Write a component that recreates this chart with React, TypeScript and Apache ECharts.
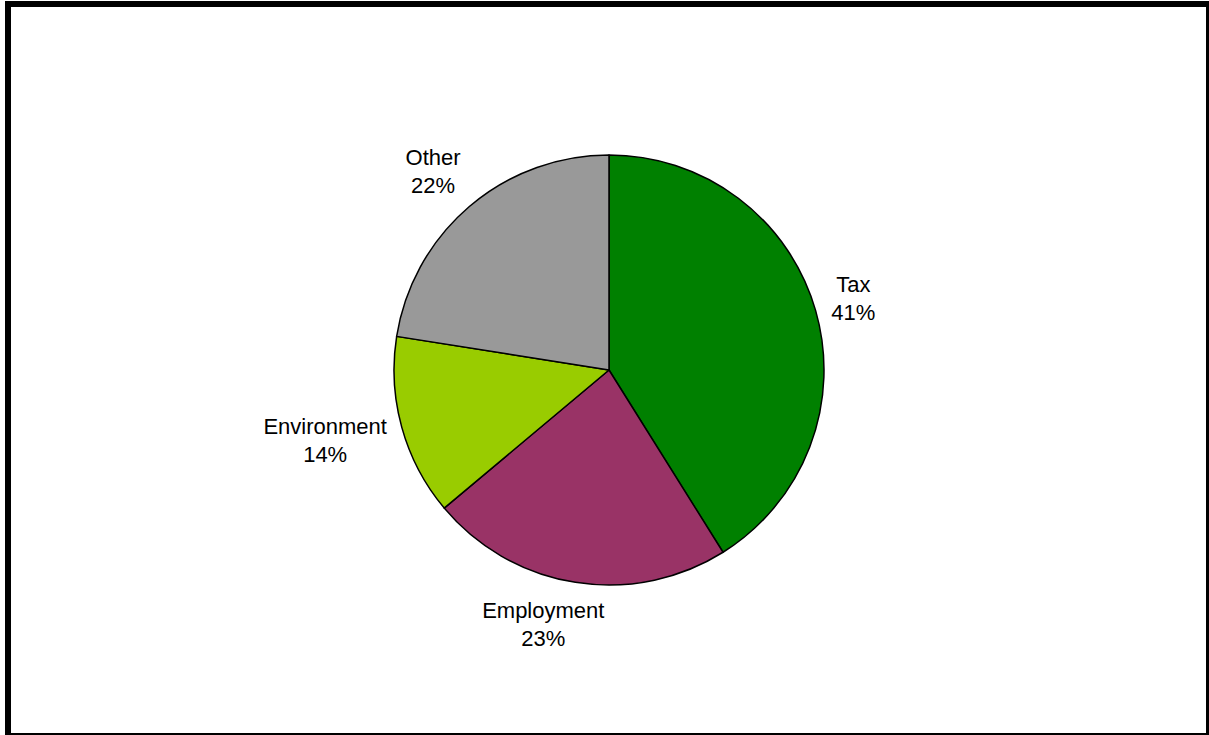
import React, { useEffect, useRef } from "react";
import * as echarts from "echarts";

const categories = ["Tax", "Employment", "Environment", "Other"];
const values = [41.1, 22.8, 13.6, 22.5];
const colors = ["#008000", "#993366", "#99CC00", "#999999"];

// label placement style tweaks (degrees), not data
const labelAngleNudge = [-0.2, 5.5, 1.5, -1];

const W = 1209;
const H = 735;
const CX = 609;
const CY = 370;
const R = 215;
const GAP = 11;

export default function App() {
  const ref = useRef<HTMLDivElement>(null);
  useEffect(() => {
    if (!ref.current) return;
    const chart = echarts.init(ref.current, null, { renderer: "svg", width: W, height: H });
    const total = values.reduce((a, b) => a + b, 0);
    const mids: number[] = [];
    let acc = 0;
    values.forEach((v, i) => {
      mids.push(((acc + v / 2) / total) * Math.PI * 2 + (labelAngleNudge[i] * Math.PI) / 180);
      acc += v;
    });
    chart.setOption({
      animation: false,
      backgroundColor: "#ffffff",
      graphic: [
        {
          type: "rect",
          shape: { x: 8, y: 4, width: 1201, height: 732 },
          style: { fill: "none", stroke: "#000000", lineWidth: 6 },
          silent: true,
          z: 100,
        },
      ],
      series: [
        {
          type: "pie",
          center: [CX, CY],
          radius: [0, R],
          startAngle: 90,
          clockwise: true,
          percentPrecision: 0,
          data: categories.map((name, i) => ({
            name,
            value: values[i],
            itemStyle: { color: colors[i] },
          })),
          itemStyle: { borderColor: "#000000", borderWidth: 1.5 },
          emphasis: { disabled: true },
          label: {
            show: true,
            position: "outside",
            formatter: "{b}\n{d}%",
            color: "#000000",
            fontSize: 22,
            lineHeight: 28,
            fontFamily: "'Liberation Sans', Arial, sans-serif",
            align: "center",
          },
          labelLine: { show: false },
          labelLayout: (params: any) => {
            const a = mids[params.dataIndex];
            const ux = Math.sin(a);
            const uy = -Math.cos(a);
            const w = params.labelRect.width;
            const h = params.labelRect.height;
            let d = R;
            for (; d < R + 300; d += 0.5) {
              const dx = Math.max(0, Math.abs(d * ux) - w / 2);
              const dy = Math.max(0, Math.abs(d * uy) - h / 2);
              if (Math.sqrt(dx * dx + dy * dy) >= R + GAP) break;
            }
            return {
              x: CX + d * ux,
              y: CY + d * uy,
              align: "center",
              verticalAlign: "middle",
            };
          },
        },
      ],
    });
    return () => chart.dispose();
  }, []);
  return (
    <div
      ref={ref}
      style={{ position: "fixed", left: 0, top: 0, width: W, height: H, background: "#fff" }}
    />
  );
}
